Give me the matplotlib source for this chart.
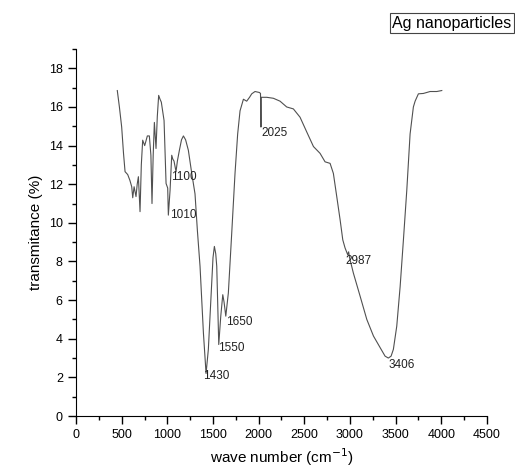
import matplotlib.pyplot as plt
from matplotlib.ticker import MultipleLocator

plt.rcParams['font.family'] = ['Liberation Sans', 'DejaVu Sans']

# FTIR spectrum
wavenumber = [452, 475, 500, 520, 537, 566, 590, 610, 621, 636, 657, 670, 683, 701,
              715, 730, 752, 781, 803, 820, 832, 845, 858, 876, 890, 905, 920, 934,
              964, 986, 1004, 1011, 1030, 1048, 1060, 1073, 1095, 1110, 1132, 1155,
              1176, 1200, 1230, 1267, 1303, 1329, 1358, 1395, 1424, 1449, 1486, 1500,
              1515, 1530, 1541, 1563, 1585, 1607, 1621, 1640, 1668, 1705, 1741, 1770,
              1796, 1833, 1869, 1900, 1924, 1960, 2008, 2020, 2025, 2028, 2041, 2089,
              2161, 2234, 2307, 2380, 2453, 2527, 2600, 2672, 2727, 2782, 2818, 2855,
              2892, 2921, 2946, 2975, 2985, 2995, 3037, 3111, 3184, 3257, 3330, 3384,
              3420, 3450, 3475, 3512, 3549, 3585, 3622, 3658, 3694, 3713, 3749, 3804,
              3877, 3950, 4005]
transmittance = [16.85, 16.0, 14.96, 13.6, 12.65, 12.5, 12.2, 11.87, 11.3, 11.87, 11.36, 12.0, 12.39, 10.58,
                 13.0, 14.28, 14.0, 14.5, 14.5, 13.5, 11.0, 13.5, 15.2, 13.85, 15.5, 16.6, 16.4, 16.25,
                 15.3, 12.04, 11.8, 10.4, 11.7, 13.5, 13.3, 13.2, 12.65, 13.2, 13.76, 14.3,
                 14.5, 14.3, 13.76, 12.57, 11.5, 9.6, 7.75, 4.3, 2.2, 3.45, 6.9, 8.2,
                 8.78, 8.4, 7.75, 3.7, 5.17, 6.28, 5.9, 5.17, 6.37, 9.47, 12.56, 14.6,
                 15.8, 16.4, 16.3, 16.5, 16.68, 16.8, 16.75, 16.7, 14.96, 16.5, 16.5, 16.5,
                 16.45, 16.3, 16.0, 15.9, 15.47, 14.7, 13.95, 13.6, 13.16, 13.08, 12.56, 11.36,
                 10.15, 9.12, 8.7, 8.35, 8.5, 8.2, 7.4, 6.2, 5.0, 4.14, 3.54, 3.1,
                 3.0, 3.1, 3.45, 4.65, 6.7, 9.12, 11.7, 14.6, 16.0, 16.3, 16.68, 16.7,
                 16.8, 16.8, 16.85]

peak_labels = ['1010', '1100', '1430', '1550', '1650', '2025', '2987', '3406']
peak_x = [1030, 1040, 1391, 1555, 1643, 2026, 2954, 3417]
peak_y = [10.41, 12.37, 2.09, 3.5, 4.85, 14.64, 8.0, 2.63]

fig = plt.figure(figsize=(5.15, 4.75), dpi=100)
ax = fig.add_axes([0.1476, 0.1242, 0.798, 0.7726])

ax.plot(wavenumber, transmittance, color='#505050', lw=0.8)

for lab, px, py in zip(peak_labels, peak_x, peak_y):
    ax.text(px, py, lab, fontsize=8.5, ha='left', va='center', color='#222222')

ax.set_xlim(0, 4500)
ax.set_ylim(0, 19)
ax.xaxis.set_major_locator(MultipleLocator(500))
ax.xaxis.set_minor_locator(MultipleLocator(250))
ax.yaxis.set_major_locator(MultipleLocator(2))
ax.yaxis.set_minor_locator(MultipleLocator(1))
ax.tick_params(which='both', direction='out', labelsize=9, width=1)
ax.tick_params(which='major', length=6)
ax.tick_params(which='minor', length=3)
ax.spines['top'].set_visible(False)
ax.spines['right'].set_visible(False)

ax.set_xlabel('wave number (cm$^{-1}$)', fontsize=11)
ax.set_ylabel('transmitance (%)', fontsize=11)

fig.text(0.993, 0.951, 'Ag nanoparticles', fontsize=11.5, ha='right', va='center',
         bbox=dict(boxstyle='square,pad=0.15', fc='white', ec='#444444', lw=0.8))

fig.savefig('out.png', dpi=100)
